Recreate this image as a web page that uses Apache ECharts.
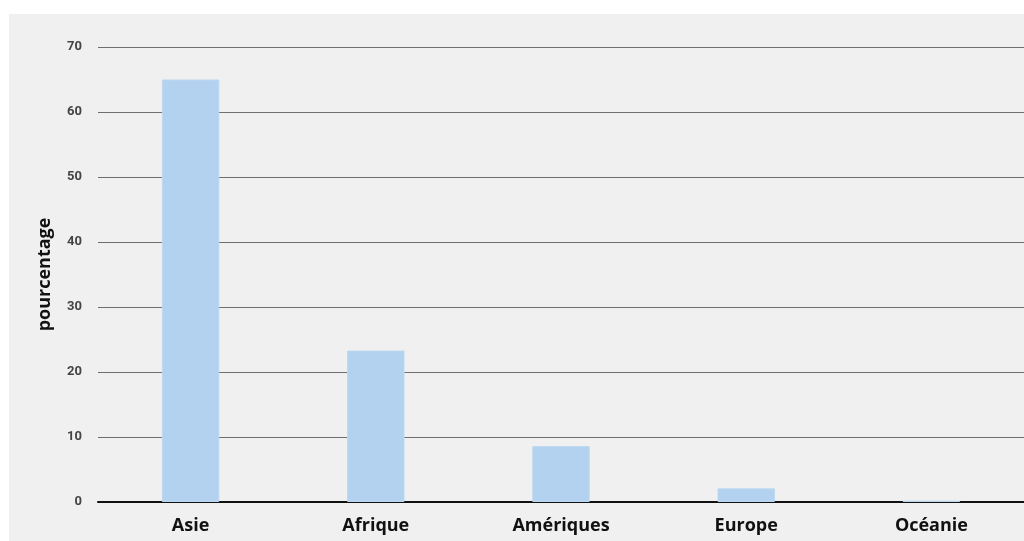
<!DOCTYPE html>
<html>
<head>
<meta charset="utf-8">
<script src="https://cdn.jsdelivr.net/npm/echarts@6/dist/echarts.min.js"></script>
<style>
html,body{margin:0;padding:0;background:#ffffff;width:1024px;height:541px;overflow:hidden;}
#chart{position:absolute;left:9px;top:14px;width:1015px;height:527px;background:#f0f0f0;}
</style>
</head>
<body>
<div id="chart"></div>
<script>
const categories = ['Asie', 'Afrique', 'Amériques', 'Europe', 'Océanie'];
const values = [65, 23.3, 8.6, 2.1, 0.2];
const yTicks = { min: 0, max: 70, interval: 10 };

const chart = echarts.init(document.getElementById('chart'));
chart.setOption({
  backgroundColor: '#f0f0f0',
  animation: false,
  grid: { left: 89, right: -2, top: 33, bottom: 39, containLabel: false },
  xAxis: {
    type: 'category',
    data: categories,
    axisTick: { show: false },
    axisLine: { show: true, lineStyle: { color: '#111', width: 2 } },
    axisLabel: { color: '#111', fontSize: 18, fontWeight: 'bold', fontFamily: 'Open Sans', margin: 15 }
  },
  yAxis: {
    type: 'value',
    min: yTicks.min, max: yTicks.max, interval: yTicks.interval,
    name: 'pourcentage',
    nameLocation: 'middle',
    nameGap: 44,
    nameRotate: 90,
    nameTextStyle: { color: '#111', fontSize: 18, fontWeight: 'bold', fontFamily: 'Open Sans' },
    axisLine: { show: false },
    axisTick: { show: false },
    axisLabel: { color: '#444', fontSize: 13, fontWeight: 'bold', fontFamily: 'Roboto', margin: 16 },
    splitLine: { lineStyle: { color: '#6e6e6e', width: 1.2 } }
  },
  series: [{
    type: 'bar',
    data: values,
    barWidth: '31%',
    itemStyle: { color: '#b3d2ef', borderColor: '#bcd8f1', borderWidth: 1 }
  }]
});
</script>
</body>
</html>
